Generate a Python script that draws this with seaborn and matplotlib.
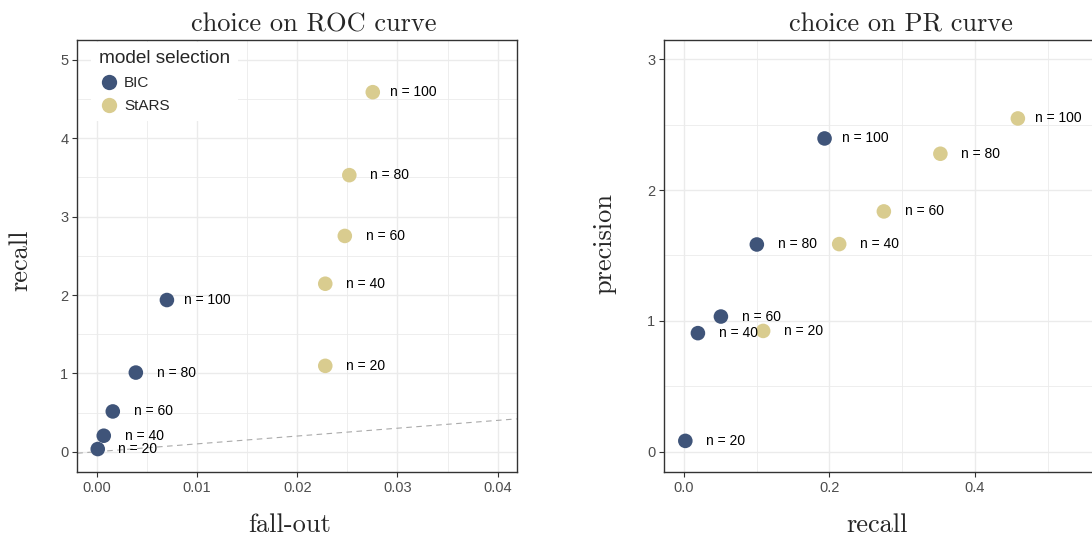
import matplotlib
matplotlib.use("Agg")
import matplotlib.pyplot as plt
import seaborn as sns
import pandas as pd
import numpy as np
from matplotlib.ticker import MultipleLocator, FormatStrFormatter

# ---------------- data ----------------
methods = ["BIC", "StARS"]
sample_sizes = [20, 40, 60, 80, 100]

# ROC panel: fall-out (x) and recall (y)
roc_fallout_bic = [0.0001, 0.0007, 0.0016, 0.0039, 0.0070]
roc_recall_bic = [0.034, 0.204, 0.514, 1.01, 1.936]
roc_fallout_stars = [0.0228, 0.0228, 0.02475, 0.0252, 0.02754]
roc_recall_stars = [1.096, 2.144, 2.754, 3.530, 4.589]

# PR panel: recall (x) and precision (y)
pr_recall_bic = [0.0019, 0.0192, 0.0508, 0.1002, 0.1933]
pr_precision_bic = [0.082, 0.906, 1.033, 1.584, 2.395]
pr_recall_stars = [0.1089, 0.2134, 0.2748, 0.3525, 0.459]
pr_precision_stars = [0.923, 1.587, 1.837, 2.278, 2.548]

diag_slope = 10  # reference line on ROC panel

palette = {"BIC": "#3f5479", "StARS": "#d9cc8f"}

roc_df = pd.DataFrame({
    "x": roc_fallout_bic + roc_fallout_stars,
    "y": roc_recall_bic + roc_recall_stars,
    "method": ["BIC"] * 5 + ["StARS"] * 5,
    "n": sample_sizes * 2,
})
pr_df = pd.DataFrame({
    "x": pr_recall_bic + pr_recall_stars,
    "y": pr_precision_bic + pr_precision_stars,
    "method": ["BIC"] * 5 + ["StARS"] * 5,
    "n": sample_sizes * 2,
})

# ---------------- style ----------------
sns.set_style("white")
plt.rcParams["font.family"] = ["Liberation Sans", "DejaVu Sans"]

W, H = 1092, 536
fig = plt.figure(figsize=(W / 100, H / 100), dpi=100)

ax_l = fig.add_axes([77.3 / W, (H - 472) / H, 439.4 / W, 432 / H])
ax_r = fig.add_axes([664.3 / W, (H - 472) / H, 439.4 / W, 432 / H])

serif = "cmr10"
grid_col = "#EBEBEB"
spine_col = "#333333"


def style_axes(ax, xlim, ylim, xmaj, ymaj, xfmt):
    ax.set_xlim(*xlim)
    ax.set_ylim(*ylim)
    ax.xaxis.set_major_locator(MultipleLocator(xmaj))
    ax.xaxis.set_minor_locator(MultipleLocator(xmaj / 2))
    ax.yaxis.set_major_locator(MultipleLocator(ymaj))
    ax.yaxis.set_minor_locator(MultipleLocator(ymaj / 2))
    ax.xaxis.set_major_formatter(FormatStrFormatter(xfmt))
    ax.yaxis.set_major_formatter(FormatStrFormatter("%d"))
    ax.grid(True, which="major", color=grid_col, lw=1.0, zorder=0)
    ax.grid(True, which="minor", color=grid_col, lw=0.6, zorder=0)
    ax.set_axisbelow(True)
    for s in ax.spines.values():
        s.set_visible(True)
        s.set_color(spine_col)
        s.set_linewidth(1.0)
    ax.tick_params(which="major", direction="out", length=3.5, width=0.8,
                   color=spine_col, labelcolor="#4D4D4D", labelsize=10.5,
                   bottom=True, left=True, pad=3)
    ax.tick_params(which="minor", length=0)


def draw(ax, df, legend):
    sns.scatterplot(data=df, x="x", y="y", hue="method", hue_order=methods,
                    palette=palette, s=110, linewidth=0, ax=ax, legend=legend,
                    zorder=3)
    for _, r in df.iterrows():
        ax.annotate(f"n = {r['n']}", (r["x"], r["y"]), xytext=(29, 0),
                    textcoords="offset points", ha="center", va="center",
                    fontsize=10, color="black", zorder=4)


# ---------------- left: ROC ----------------
style_axes(ax_l, (-0.00194, 0.0419), (-0.259, 5.255), 0.01, 1, "%.2f")
ax_l.axline((0, 0), slope=diag_slope, color="#AAAAAA", lw=0.8,
            ls=(0, (5, 4)), zorder=2)
draw(ax_l, roc_df, True)

ax_l.set_title("choice on ROC curve", fontfamily=serif, fontsize=19,
               x=0.5375, pad=6)
ax_l.set_xlabel("fall-out", fontfamily=serif, fontsize=19, va="center")
ax_l.set_ylabel("recall", fontfamily=serif, fontsize=19, va="center")
ax_l.xaxis.set_label_coords(0.483, -0.122)
ax_l.yaxis.set_label_coords(-0.130, 0.49)

leg = ax_l.legend(title="model selection", loc="upper left",
                  bbox_to_anchor=(0.032, 0.995), frameon=True, fontsize=11,
                  title_fontsize=13.7, handletextpad=0.33, labelspacing=0.6,
                  borderpad=0.5, handlelength=1.3, markerscale=1.05,
                  alignment="left", borderaxespad=0)
leg.get_frame().set_facecolor("white")
leg.get_frame().set_edgecolor("none")
leg.get_frame().set_alpha(1)
leg.set_zorder(5)

# ---------------- right: PR ----------------
style_axes(ax_r, (-0.027, 0.577), (-0.156, 3.148), 0.2, 1, "%.1f")
draw(ax_r, pr_df, False)
ax_r.set_title("choice on PR curve", fontfamily=serif, fontsize=19,
               x=0.5375, pad=6)
ax_r.set_xlabel("recall", fontfamily=serif, fontsize=19, va="center")
ax_r.set_ylabel("precision", fontfamily=serif, fontsize=19, va="center")
ax_r.xaxis.set_label_coords(0.484, -0.122)
ax_r.yaxis.set_label_coords(-0.135, 0.53)

fig.savefig("out.png", dpi=100)
